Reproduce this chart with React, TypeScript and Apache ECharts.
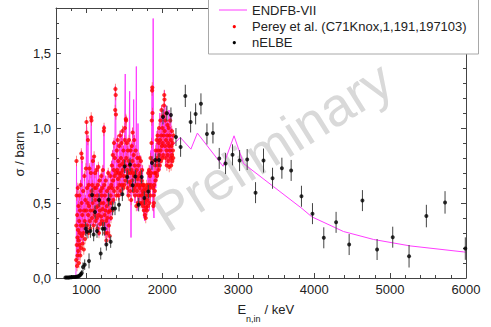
import React, { useEffect, useRef } from "react";
import * as echarts from "echarts";

// ---------- DATA ----------
const X_MAJOR_TICKS = [1000, 2000, 3000, 4000, 5000, 6000];
const Y_MAJOR_TICKS = [0, 0.5, 1.0, 1.5];

// ENDFB-VII evaluated cross section [E keV, sigma barn]
const ENDF_DATA: number[][] = [
  [720, 0.0], [760, 0.002], [800, 0.004], [840, 0.006], [860, 0.01], [864, 0.05], [867, 0.2], [870, 0.78], [873, 0.3], [876, 0.1],
  [880, 0.5], [884, 0.15], [888, 0.62], [892, 0.2], [896, 0.45], [900, 0.12], [905, 0.55], [910, 0.25], [915, 0.4], [920, 0.15],
  [925, 0.65], [930, 0.25], [935, 0.85], [940, 0.3], [945, 0.78], [950, 0.25], [956, 0.55], [962, 0.22], [968, 0.48], [974, 0.7],
  [980, 0.3], [986, 0.55], [992, 0.28], [998, 0.75], [1002, 1.05], [1006, 0.5], [1011, 0.3], [1016, 0.6], [1021, 0.95], [1026, 0.35],
  [1032, 0.65], [1038, 0.4], [1043, 0.75], [1048, 0.3], [1054, 0.5], [1060, 0.72], [1064, 1.08], [1068, 0.55], [1073, 0.35], [1079, 0.65],
  [1085, 0.8], [1090, 0.4], [1096, 0.3], [1102, 0.82], [1107, 0.45], [1113, 0.7], [1119, 0.35], [1125, 0.62], [1131, 0.4], [1137, 0.75],
  [1143, 0.3], [1149, 0.6], [1155, 0.45], [1160, 0.76], [1166, 0.28], [1172, 0.6], [1178, 0.4], [1184, 0.62], [1190, 0.35], [1196, 0.7],
  [1202, 0.48], [1208, 0.35], [1214, 0.65], [1220, 0.75], [1226, 0.32], [1232, 1.02], [1237, 0.45], [1243, 0.6], [1249, 0.28], [1255, 0.68],
  [1261, 0.22], [1267, 0.5], [1273, 0.6], [1279, 0.28], [1285, 0.72], [1291, 0.35], [1297, 0.62], [1303, 0.25], [1309, 0.48], [1315, 0.7],
  [1321, 0.38], [1327, 0.64], [1333, 0.78], [1339, 0.42], [1345, 0.85], [1351, 0.5], [1357, 0.75], [1363, 0.92], [1369, 0.5], [1375, 0.82],
  [1382, 1.28], [1387, 1.2], [1392, 0.6], [1398, 0.9], [1404, 0.55], [1410, 0.95], [1416, 0.6], [1422, 0.8], [1428, 0.52], [1434, 0.9],
  [1440, 0.62], [1446, 0.98], [1452, 0.55], [1458, 0.85], [1464, 0.95], [1470, 0.6], [1476, 1.0], [1482, 0.58], [1488, 0.88], [1494, 0.62],
  [1500, 0.8], [1506, 1.05], [1512, 1.36], [1516, 0.7], [1522, 1.08], [1528, 0.62], [1534, 0.92], [1540, 0.55], [1546, 0.88], [1552, 0.58],
  [1558, 0.8], [1564, 0.95], [1570, 1.245], [1576, 0.6], [1582, 0.88], [1588, 0.27], [1594, 0.75], [1600, 0.9], [1606, 0.6], [1612, 1.0],
  [1618, 0.55], [1623, 1.19], [1628, 0.65], [1634, 0.95], [1640, 0.5], [1646, 0.75], [1652, 0.6], [1658, 1.41], [1664, 0.55], [1670, 0.82],
  [1675, 0.45], [1680, 1.03], [1686, 0.6], [1692, 0.78], [1698, 0.5], [1704, 0.82], [1710, 0.55], [1716, 0.8], [1722, 0.48], [1728, 0.7],
  [1734, 0.5], [1740, 0.75], [1746, 0.45], [1752, 0.62], [1758, 0.4], [1764, 0.6], [1770, 0.38], [1776, 0.55], [1782, 0.4], [1788, 0.6],
  [1794, 0.42], [1800, 0.58], [1806, 0.45], [1812, 0.72], [1818, 0.5], [1824, 0.68], [1830, 0.45], [1836, 0.75], [1842, 0.5], [1848, 0.85],
  [1854, 0.6], [1860, 1.0], [1866, 1.28], [1872, 0.9], [1876, 0.45], [1880, 1.73], [1884, 0.5], [1890, 0.4], [1896, 0.7], [1902, 0.55],
  [1908, 0.85], [1914, 0.6], [1920, 0.9], [1926, 0.65], [1932, 0.98], [1938, 0.7], [1944, 1.0], [1950, 0.68], [1956, 0.95], [1962, 0.75],
  [1968, 1.1], [1974, 0.72], [1980, 1.0], [1986, 0.78], [1992, 1.15], [1998, 0.8], [2004, 1.08], [2010, 0.85], [2016, 1.12], [2022, 0.8],
  [2028, 1.25], [2034, 0.85], [2040, 1.1], [2046, 0.75], [2052, 1.15], [2058, 0.8], [2064, 1.05], [2070, 0.75], [2076, 1.0], [2082, 0.8],
  [2088, 1.12], [2094, 0.78], [2100, 1.05], [2106, 0.8], [2112, 1.1], [2118, 0.75], [2124, 1.0], [2130, 0.82], [2136, 0.95], [2140, 0.886],
  [2237, 0.9375], [2377, 0.859], [2462, 0.966], [2800, 0.745], [2945, 0.948], [3070, 0.763], [3465, 0.609], [3838, 0.464], [3969, 0.408],
  [4386, 0.31], [4781, 0.257], [5263, 0.214], [5965, 0.174], [6000, 0.172],
];

// Perey et al. (C71Knox,1,191,197103) [E keV, sigma barn]
const PEREY_DATA: number[][] = [
  [866, 0.12], [868, 0.35], [870, 0.78], [872, 0.55], [874, 0.22], [877, 0.08], [879, 0.42], [882, 0.27], [884, 0.15], [887, 0.6],
  [890, 0.32], [893, 0.18], [896, 0.48], [899, 0.25], [902, 0.1], [905, 0.38], [908, 0.55], [911, 0.22], [914, 0.3], [917, 0.45],
  [920, 0.15], [924, 0.62], [927, 0.35], [930, 0.2], [934, 0.83], [937, 0.5], [940, 0.28], [944, 0.8], [947, 0.42], [950, 0.23],
  [954, 0.35], [958, 0.58], [962, 0.3], [966, 0.19], [970, 0.45], [974, 0.68], [978, 0.38], [982, 0.26], [986, 0.52], [990, 0.35],
  [994, 0.73], [998, 0.45], [1002, 1.04], [1005, 0.97], [1008, 0.6], [1012, 0.35], [1016, 0.5], [1020, 0.92], [1024, 0.42], [1028, 0.3],
  [1032, 0.62], [1036, 0.48], [1040, 0.73], [1044, 0.38], [1048, 0.55], [1052, 0.33], [1056, 0.45], [1060, 0.7], [1064, 1.07], [1067, 1.05],
  [1070, 0.58], [1074, 0.4], [1078, 0.62], [1082, 0.5], [1086, 0.78], [1090, 0.45], [1094, 0.35], [1098, 0.55], [1102, 0.81], [1106, 0.6],
  [1110, 0.42], [1114, 0.7], [1118, 0.52], [1122, 0.38], [1126, 0.6], [1130, 0.47], [1134, 0.72], [1138, 0.4], [1142, 0.55], [1146, 0.33],
  [1150, 0.62], [1154, 0.48], [1158, 0.74], [1162, 0.42], [1166, 0.3], [1170, 0.52], [1174, 0.65], [1178, 0.45], [1182, 0.36], [1186, 0.58],
  [1190, 0.5], [1194, 0.41], [1198, 0.68], [1202, 0.55], [1206, 0.38], [1210, 0.6], [1214, 0.46], [1218, 0.72], [1222, 0.36], [1226, 0.5],
  [1230, 0.98], [1233, 1.0], [1236, 0.62], [1240, 0.42], [1244, 0.55], [1248, 0.3], [1252, 0.45], [1256, 0.65], [1260, 0.38], [1264, 0.25],
  [1268, 0.48], [1272, 0.58], [1276, 0.4], [1280, 0.3], [1284, 0.52], [1288, 0.7], [1292, 0.44], [1296, 0.35], [1300, 0.6], [1304, 0.5],
  [1308, 0.28], [1312, 0.45], [1316, 0.68], [1320, 0.55], [1324, 0.4], [1328, 0.62], [1332, 0.5], [1336, 0.75], [1340, 0.6], [1344, 0.45],
  [1348, 0.82], [1352, 0.65], [1356, 0.52], [1360, 0.72], [1364, 0.9], [1368, 0.58], [1372, 0.68], [1376, 0.8], [1380, 1.12], [1383, 1.26],
  [1386, 1.22], [1389, 1.09], [1392, 0.7], [1396, 0.55], [1400, 0.85], [1404, 0.72], [1408, 0.6], [1412, 0.92], [1416, 0.66], [1420, 0.78],
  [1424, 0.55], [1428, 0.7], [1432, 0.88], [1436, 0.62], [1440, 0.75], [1444, 0.95], [1448, 0.68], [1452, 0.58], [1456, 0.8], [1460, 0.7],
  [1464, 0.9], [1468, 0.62], [1472, 0.76], [1476, 0.98], [1480, 0.72], [1484, 0.6], [1488, 0.85], [1492, 0.68], [1496, 0.78], [1500, 0.62],
  [1504, 0.92], [1508, 1.0], [1512, 0.75], [1516, 0.65], [1520, 1.06], [1523, 1.05], [1526, 0.8], [1530, 0.68], [1534, 0.9], [1538, 0.72],
  [1542, 0.6], [1546, 0.85], [1550, 0.7], [1554, 0.55], [1558, 0.78], [1562, 0.92], [1566, 0.64], [1570, 0.75], [1574, 0.58], [1578, 0.7],
  [1582, 0.85], [1586, 0.62], [1590, 0.52], [1594, 0.72], [1598, 0.88], [1602, 0.65], [1606, 0.78], [1610, 0.97], [1614, 0.7], [1618, 0.58],
  [1622, 0.82], [1626, 0.68], [1630, 0.92], [1634, 0.6], [1638, 0.75], [1642, 0.55], [1646, 0.7], [1650, 0.85], [1654, 0.62], [1658, 0.48],
  [1662, 0.72], [1666, 0.58], [1670, 0.8], [1674, 0.66], [1678, 0.5], [1682, 0.62], [1686, 0.75], [1690, 0.55], [1694, 0.68], [1698, 0.8],
  [1702, 0.6], [1706, 0.5], [1710, 0.7], [1714, 0.62], [1718, 0.78], [1722, 0.55], [1726, 0.65], [1730, 0.5], [1734, 0.72], [1738, 0.58],
  [1742, 0.62], [1746, 0.48], [1750, 0.56], [1754, 0.62], [1758, 0.45], [1762, 0.52], [1766, 0.6], [1770, 0.42], [1774, 0.5], [1778, 0.58],
  [1782, 0.4], [1786, 0.47], [1790, 0.55], [1794, 0.62], [1798, 0.45], [1802, 0.52], [1806, 0.6], [1810, 0.48], [1814, 0.7], [1818, 0.55],
  [1822, 0.62], [1826, 0.72], [1830, 0.5], [1834, 0.6], [1838, 0.68], [1842, 0.55], [1846, 0.8], [1850, 0.62], [1854, 0.7], [1858, 0.9],
  [1862, 1.05], [1866, 1.25], [1868, 1.27], [1871, 1.1], [1874, 0.78], [1878, 0.6], [1882, 0.48], [1886, 0.55], [1890, 0.5], [1894, 0.62],
  [1898, 0.7], [1902, 0.58], [1906, 0.75], [1910, 0.65], [1914, 0.85], [1918, 0.7], [1922, 0.78], [1926, 0.92], [1930, 0.68], [1934, 0.8],
  [1938, 0.95], [1942, 0.75], [1946, 0.85], [1950, 0.72], [1954, 0.9], [1958, 1.0], [1962, 0.82], [1966, 0.75], [1970, 0.92], [1974, 1.05],
  [1978, 0.85], [1982, 0.78], [1986, 0.95], [1990, 1.12], [1994, 0.88], [1998, 0.8], [2002, 1.0], [2006, 0.9], [2010, 1.08], [2014, 0.82],
  [2018, 0.95], [2022, 1.15], [2026, 1.22], [2029, 1.19], [2032, 0.98], [2036, 0.88], [2040, 1.05], [2044, 0.8], [2048, 0.92], [2052, 1.1],
  [2056, 0.85], [2060, 0.75], [2064, 0.95], [2068, 1.02], [2072, 0.82], [2076, 0.9], [2080, 0.78], [2084, 1.0], [2088, 0.88], [2092, 0.74],
  [2096, 0.95], [2100, 0.85], [2104, 1.05], [2108, 0.8], [2112, 0.92], [2116, 0.75], [2120, 0.88], [2124, 0.98], [2128, 0.82], [2132, 0.78],
  [2136, 0.9], [2140, 0.85], [2144, 0.8], [2148, 0.95],
];
const PEREY_ERR = 0.035;

// nELBE [E keV, sigma barn, uncertainty]
const NELBE_DATA: number[][] = [
  [724, 0.003, 0.003], [740, 0.003, 0.003], [756, 0.004, 0.003], [772, 0.004, 0.003], [788, 0.005, 0.003], [804, 0.005, 0.003],
  [820, 0.006, 0.004], [836, 0.006, 0.004], [852, 0.007, 0.004], [868, 0.008, 0.005], [884, 0.01, 0.006], [898, 0.012, 0.007],
  [912, 0.016, 0.01], [926, 0.025, 0.015], [939, 0.033, 0.02], [956, 0.074, 0.03], [978, 0.089, 0.035], [991, 0.328, 0.045],
  [1009, 0.308, 0.045], [1035, 0.114, 0.05], [1053, 0.313, 0.045], [1075, 0.554, 0.045], [1096, 0.29, 0.045], [1114, 0.44, 0.045],
  [1140, 0.313, 0.045], [1167, 0.52, 0.045], [1189, 0.163, 0.04], [1215, 0.328, 0.045], [1241, 0.328, 0.045], [1263, 0.223, 0.04],
  [1294, 0.524, 0.045], [1320, 0.241, 0.04], [1346, 0.464, 0.045], [1377, 0.464, 0.045], [1430, 0.489, 0.045], [1474, 0.558, 0.045],
  [1504, 0.743, 0.045], [1539, 0.674, 0.045], [1575, 0.757, 0.045], [1610, 0.618, 0.045], [1645, 0.676, 0.045], [1689, 0.489, 0.045],
  [1728, 0.674, 0.045], [1763, 0.533, 0.045], [1816, 0.576, 0.045], [1864, 0.766, 0.045], [1908, 0.786, 0.045], [1956, 0.786, 0.045],
  [2009, 1.074, 0.05], [2061, 1.098, 0.05], [2114, 1.087, 0.05], [2180, 0.94, 0.06], [2241, 0.873, 0.065], [2303, 1.214, 0.074],
  [2373, 1.04, 0.07], [2439, 1.094, 0.07], [2509, 1.161, 0.07], [2588, 0.96, 0.07], [2667, 0.967, 0.07], [2750, 0.797, 0.07],
  [2833, 0.763, 0.07], [2925, 0.821, 0.07], [3018, 0.783, 0.07], [3118, 0.79, 0.07], [3228, 0.569, 0.07], [3333, 0.783, 0.08],
  [3452, 0.665, 0.07], [3575, 0.732, 0.07], [3697, 0.717, 0.07], [3833, 0.545, 0.07], [3978, 0.429, 0.07], [4127, 0.268, 0.07],
  [4289, 0.371, 0.07], [4461, 0.223, 0.07], [4636, 0.516, 0.07], [4829, 0.19, 0.07], [5035, 0.272, 0.07], [5250, 0.145, 0.075],
  [5478, 0.413, 0.075], [5724, 0.504, 0.075], [5991, 0.196, 0.075],
];

// ---------- STYLE ----------
const FONT = "'Liberation Sans', Arial, Helvetica, sans-serif";
const AXIS_COLOR = "#444";
const TEXT_COLOR = "#222";
const ENDF_COLOR = "#ff3cff";
const PEREY_COLOR = "#ff0000";
const PEREY_BAR = "rgba(255,70,70,0.65)";
const NELBE_COLOR = "#000000";
const NELBE_BAR = "#444444";

const X_MIN = 600, X_MAX = 6000, Y_MIN = 0, Y_MAX = 1.8;

function errorBarSeries(data: number[][], color: string) {
  return {
    type: "custom",
    xAxisIndex: 0,
    yAxisIndex: 0,
    clip: true,
    silent: true,
    z: 3,
    data,
    encode: { x: 0, y: 1 },
    renderItem: (_params: any, api: any) => {
      const x = api.value(0);
      const y = api.value(1);
      const e = api.value(2);
      const p1 = api.coord([x, y - e]);
      const p2 = api.coord([x, y + e]);
      return {
        type: "line",
        shape: { x1: p1[0], y1: p1[1], x2: p2[0], y2: p2[1] },
        style: { stroke: color, lineWidth: 1 },
      };
    },
  };
}

function makeXAxis(position: "bottom" | "top", major: boolean, labels: boolean) {
  return {
    type: "value",
    position,
    min: X_MIN,
    max: X_MAX,
    interval: 200,
    axisLine: { show: !major, onZero: false, lineStyle: { color: AXIS_COLOR, width: 1 } },
    axisTick: major
      ? { show: true, inside: true, length: 5, customValues: X_MAJOR_TICKS, lineStyle: { color: AXIS_COLOR } }
      : { show: true, inside: true, length: 3, lineStyle: { color: AXIS_COLOR } },
    axisLabel: labels
      ? {
          show: true,
          customValues: X_MAJOR_TICKS,
          fontSize: 13,
          color: TEXT_COLOR,
          fontFamily: FONT,
          margin: 5,
          formatter: (v: number) => String(Math.round(v)),
        }
      : { show: false },
    splitLine: { show: false },
  };
}

function makeYAxis(position: "left" | "right", major: boolean, labels: boolean) {
  return {
    type: "value",
    position,
    min: Y_MIN,
    max: Y_MAX,
    interval: 0.1,
    axisLine: { show: !major, onZero: false, lineStyle: { color: AXIS_COLOR, width: 1 } },
    axisTick: major
      ? { show: true, inside: true, length: 5, customValues: Y_MAJOR_TICKS, lineStyle: { color: AXIS_COLOR } }
      : { show: true, inside: true, length: 3, lineStyle: { color: AXIS_COLOR } },
    axisLabel: labels
      ? {
          show: true,
          customValues: Y_MAJOR_TICKS,
          fontSize: 13,
          color: TEXT_COLOR,
          fontFamily: FONT,
          margin: 5,
          formatter: (v: number) => v.toFixed(1).replace(".", ","),
        }
      : { show: false },
    splitLine: { show: false },
  };
}

export default function App() {
  const ref = useRef<HTMLDivElement>(null);

  useEffect(() => {
    if (!ref.current) return;
    const chart = echarts.init(ref.current, undefined, { renderer: "svg" });
    const rot = (32 * Math.PI) / 180;
    const option: any = {
      animation: false,
      backgroundColor: "#ffffff",
      grid: { left: 56, right: 25, top: 8, bottom: 49, containLabel: false },
      xAxis: [
        makeXAxis("bottom", false, true),
        makeXAxis("bottom", true, false),
        makeXAxis("top", false, false),
        makeXAxis("top", true, false),
      ],
      yAxis: [
        makeYAxis("left", false, true),
        makeYAxis("left", true, false),
        makeYAxis("right", false, false),
        makeYAxis("right", true, false),
      ],
      series: [
        {
          name: "ENDFB-VII",
          type: "line",
          xAxisIndex: 0,
          yAxisIndex: 0,
          data: ENDF_DATA,
          showSymbol: false,
          symbol: "none",
          lineStyle: { color: ENDF_COLOR, width: 1 },
          z: 2,
        },
        errorBarSeries(PEREY_DATA.map(([x, y]) => [x, y, PEREY_ERR]), PEREY_BAR),
        {
          name: "Perey et al. (C71Knox,1,191,197103)",
          type: "scatter",
          xAxisIndex: 0,
          yAxisIndex: 0,
          data: PEREY_DATA,
          symbol: "circle",
          symbolSize: 4.2,
          itemStyle: { color: PEREY_COLOR },
          z: 4,
        },
        { ...errorBarSeries(NELBE_DATA, NELBE_BAR), z: 5 },
        {
          name: "nELBE",
          type: "scatter",
          xAxisIndex: 0,
          yAxisIndex: 0,
          data: NELBE_DATA.map(([x, y]) => [x, y]),
          symbol: "circle",
          symbolSize: 4,
          itemStyle: { color: NELBE_COLOR },
          z: 6,
        },
      ],
      graphic: [
        {
          type: "text",
          z: 1,
          x: 272,
          y: 146,
          rotation: rot,
          silent: true,
          style: {
            text: "Preliminary",
            fontSize: 54,
            fontFamily: FONT,
            fill: "#d9d9d9",
            textAlign: "center",
            textVerticalAlign: "middle",
          },
        },
        // axis titles
        {
          type: "text",
          x: 19,
          y: 154,
          rotation: Math.PI / 2,
          style: {
            text: "σ / barn",
            fontSize: 13,
            fontFamily: FONT,
            fill: TEXT_COLOR,
            textAlign: "center",
            textVerticalAlign: "middle",
          },
        },
        {
          type: "text",
          x: 237.5,
          y: 316,
          style: { text: "E", fontSize: 13, fontFamily: FONT, fill: TEXT_COLOR, textAlign: "left", textVerticalAlign: "bottom" },
        },
        {
          type: "text",
          x: 246,
          y: 323.5,
          style: { text: "n,in", fontSize: 9, fontFamily: FONT, fill: TEXT_COLOR, textAlign: "left", textVerticalAlign: "bottom" },
        },
        {
          type: "text",
          x: 264.5,
          y: 316,
          style: { text: "/ keV", fontSize: 13, fontFamily: FONT, fill: TEXT_COLOR, textAlign: "left", textVerticalAlign: "bottom" },
        },
        // legend
        {
          type: "group",
          z: 100,
          children: [
            {
              type: "rect",
              z: 100,
              shape: { x: 208.5, y: -2, width: 270, height: 56 },
              style: { fill: "#ffffff", stroke: "#a8a8a8", lineWidth: 1 },
            },
            {
              type: "line",
              z: 101,
              shape: { x1: 219, y1: 10, x2: 247, y2: 10 },
              style: { stroke: ENDF_COLOR, lineWidth: 1 },
            },
            {
              type: "circle",
              z: 101,
              shape: { cx: 234.3, cy: 26.7, r: 1.6 },
              style: { fill: PEREY_COLOR },
            },
            {
              type: "circle",
              z: 101,
              shape: { cx: 234.3, cy: 42.7, r: 1.6 },
              style: { fill: NELBE_COLOR },
            },
            {
              type: "text",
              z: 101,
              x: 252,
              y: 10.5,
              style: { text: "ENDFB-VII", fontSize: 13, fontFamily: FONT, fill: TEXT_COLOR, textVerticalAlign: "middle" },
            },
            {
              type: "text",
              z: 101,
              x: 252,
              y: 26.7,
              style: {
                text: "Perey et al. (C71Knox,1,191,197103)",
                fontSize: 13,
                fontFamily: FONT,
                fill: TEXT_COLOR,
                textVerticalAlign: "middle",
              },
            },
            {
              type: "text",
              z: 101,
              x: 252,
              y: 42.7,
              style: { text: "nELBE", fontSize: 13, fontFamily: FONT, fill: TEXT_COLOR, textVerticalAlign: "middle" },
            },
          ],
        },
      ],
    };
    chart.setOption(option);
    return () => chart.dispose();
  }, []);

  return (
    <div
      ref={ref}
      style={{ position: "fixed", left: 0, top: 0, width: 491, height: 327, background: "#fff" }}
    />
  );
}
